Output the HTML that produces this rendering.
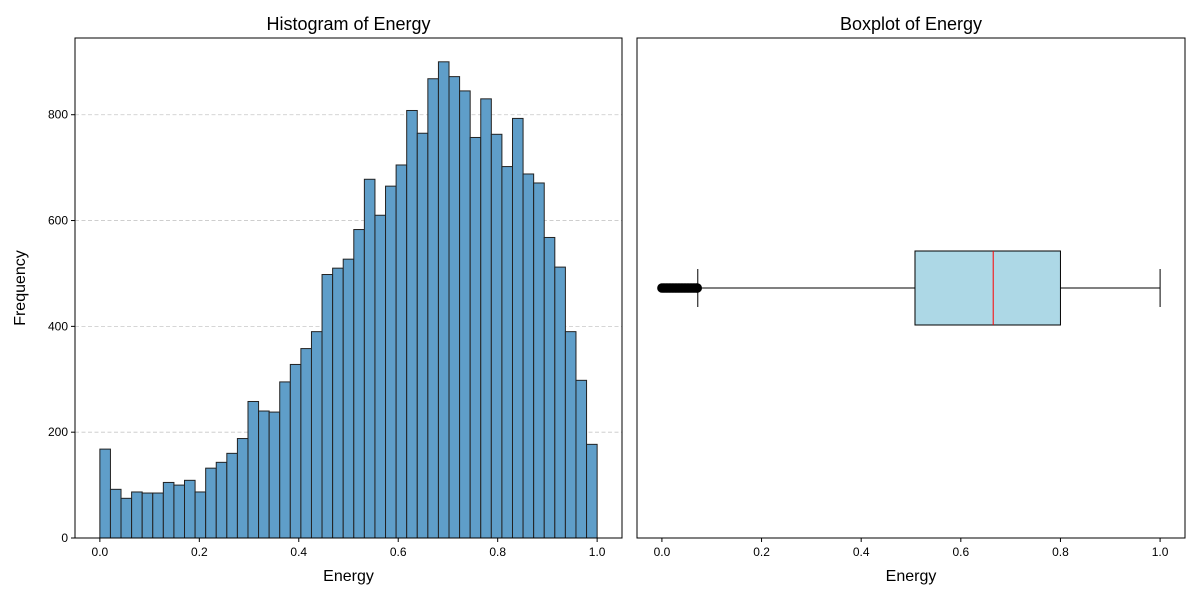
<!DOCTYPE html>
<html><head><meta charset="utf-8"><style>
body{margin:0;background:#fff;}
svg{font-family:"Liberation Sans",sans-serif;}
</style></head><body>
<svg id="c" width="1200" height="600" xmlns="http://www.w3.org/2000/svg"></svg>
<script>
const counts=[168,92,75,87,85,85,105,100,109,87,132,143,160,188,258,240,238,295,328,358,390,498,510,527,583,678,610,665,705,808,765,868,900,872,845,757,830,763,702,793,688,671,568,512,390,298,177];
const xTicks=[0,0.2,0.4,0.6,0.8,1.0];
const xTickLabels=["0.0","0.2","0.4","0.6","0.8","1.0"];
const yTicks=[0,200,400,600,800];
const boxStats=[0.072,0.508,0.665,0.800,1.0]; // whiskerLow,q1,median,q3,whiskerHigh
const outliers=[0,0.003,0.006,0.009,0.012,0.015,0.018,0.021,0.024,0.027,0.03,0.033,0.036,0.039,0.042,0.045,0.048,0.051,0.054,0.057,0.06,0.063,0.066,0.069,0.071];

const NS="http://www.w3.org/2000/svg";
const svg=document.getElementById('c');
function mk(t,a,p){const e=document.createElementNS(NS,t);for(const k in a)e.setAttribute(k,a[k]);(p||svg).appendChild(e);return e;}
const L={x0:75,x1:622},R={x0:637,x1:1185},T=38,B=538;
const xs=(ax)=>v=>ax.x0+(v+0.05)/1.1*(ax.x1-ax.x0);
const xl=xs(L),xr=xs(R);
const ys=v=>B-v*(B-T)/945;

const g=mk('g',{});
yTicks.forEach(t=>{if(t>0){mk('line',{x1:L.x0,x2:L.x1,y1:ys(t),y2:ys(t),stroke:'#c8c8c8','stroke-dasharray':'4,2.5','stroke-width':0.8},g);}});
const bw=1/counts.length;
const bg=mk('g',{});
counts.forEach((c,i)=>{const a=xl(i*bw),b=xl((i+1)*bw);const r=mk('rect',{x:a,y:ys(c),width:b-a,height:ys(0)-ys(c),fill:'#5f9ec9',stroke:'#222','stroke-width':1},bg);

});
[L,R].forEach((ax,i)=>{const f=mk('rect',{x:ax.x0,y:T,width:ax.x1-ax.x0,height:B-T,fill:'none',stroke:'#000','stroke-width':1});

});
[[xl,'hist'],[xr,'box']].forEach(([fx,n])=>{xTicks.forEach((t,i)=>{mk('line',{x1:fx(t),x2:fx(t),y1:B,y2:B+4,stroke:'#000'});
const tx=mk('text',{x:fx(t),y:B+18,'font-size':12,'text-anchor':'middle'});tx.textContent=xTickLabels[i];

});});
yTicks.forEach(t=>{mk('line',{x1:L.x0-4,x2:L.x0,y1:ys(t),y2:ys(t),stroke:'#000'});
const tx=mk('text',{x:L.x0-7,y:ys(t)+4,'font-size':12,'text-anchor':'end'});tx.textContent=t;

});
function txt(s,x,y,sz,name,rot){const e=mk('text',{x:x,y:y,'font-size':sz,'text-anchor':'middle'});if(rot)e.setAttribute('transform',`rotate(-90 ${x} ${y})`);e.textContent=s;

return e;}
txt('Histogram of Energy',(L.x0+L.x1)/2,30,18,'histogram-title');
txt('Boxplot of Energy',(R.x0+R.x1)/2,30,18,'boxplot-title');
txt('Energy',(L.x0+L.x1)/2,581,16,'histogram-x-axis-title');
txt('Energy',(R.x0+R.x1)/2,581,16,'boxplot-x-axis-title');
txt('Frequency',25,(T+B)/2,16,'y-axis-title',true);
const cy=288,hb=37,hc=19;
const bx=mk('g',{});
mk('line',{x1:xr(boxStats[0]),x2:xr(boxStats[1]),y1:cy,y2:cy,stroke:'#000'},bx);
mk('line',{x1:xr(boxStats[3]),x2:xr(boxStats[4]),y1:cy,y2:cy,stroke:'#000'},bx);
[boxStats[0],boxStats[4]].forEach(v=>mk('line',{x1:xr(v),x2:xr(v),y1:cy-hc,y2:cy+hc,stroke:'#000'},bx));
mk('rect',{x:xr(boxStats[1]),y:cy-hb,width:xr(boxStats[3])-xr(boxStats[1]),height:2*hb,fill:'#add8e6',stroke:'#000'},bx);
mk('line',{x1:xr(boxStats[2]),x2:xr(boxStats[2]),y1:cy-hb,y2:cy+hb,stroke:'#ff0000'},bx);
outliers.forEach(v=>{const c=mk('circle',{cx:xr(v),cy:cy,r:3.5,fill:'none',stroke:'#000','stroke-width':2.5},bx);

});
</script>
</body></html>
